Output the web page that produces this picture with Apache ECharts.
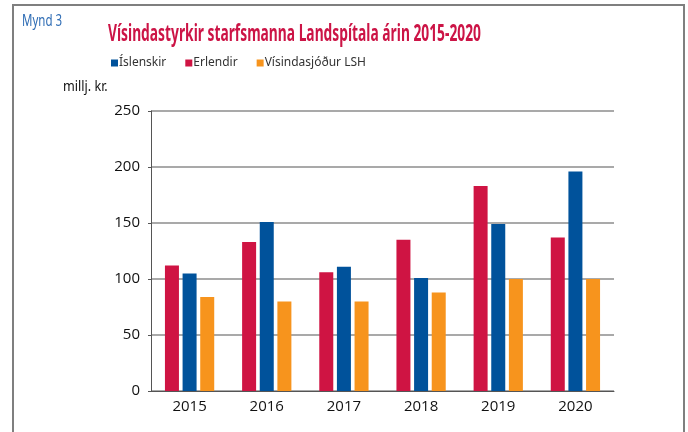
<!DOCTYPE html>
<html lang="is">
<head>
    <meta charset="UTF-8">
    <title>Vísindastyrkir</title>
    <style>
        html, body { margin: 0; padding: 0; background: #fff; }
        #chart { width: 688px; height: 432px; }
    </style>
</head>
<body>
    <div id="chart"></div>
    <script src="https://cdn.jsdelivr.net/npm/echarts@6/dist/echarts.min.js"></script>
    <script>
        // gögn lesin af myndinni
        var years = ['2015', '2016', '2017', '2018', '2019', '2020'];
        var erlendir = [112, 133, 106, 135, 183, 137];
        var islenskir = [105, 151, 111, 101, 149, 196];
        var sjodur = [84, 80, 80, 88, 100, 100];
        var legendOrder = ['Íslenskir', 'Erlendir', 'Vísindasjóður LSH'];

        var chart = echarts.init(document.getElementById('chart'));

        var barStyle = { barWidth: 14, barGap: '26%' };

        option = {
            animation: false,
            textStyle: { fontFamily: 'Open Sans' },
            graphic: [
                {
                    type: 'rect',
                    shape: { x: 13, y: 5, width: 671, height: 440 },
                    style: { fill: 'none', stroke: '#7f7f7f', lineWidth: 2 }
                },
                {
                    // Mynd 3 - þrengt letur
                    type: 'text', x: 22, y: 13, scaleX: 0.72,
                    style: { text: 'Mynd 3', fill: '#2f6db5', font: '16px "Noto Sans"' }
                },
                {
                    type: 'text', x: 108, y: 23, scaleX: 0.6,
                    style: {
                        text: 'Vísindastyrkir starfsmanna Landspítala árin 2015-2020',
                        fill: '#cc1446',
                        font: 'bold 23px "Noto Sans"'
                    }
                },
                {
                    type: 'text', x: 63, y: 80, scaleX: 0.9,
                    style: { text: 'millj. kr.', fill: '#111', font: '14px "Noto Sans"' }
                }
            ],
            legend: {
                data: legendOrder,
                left: 106,
                top: 52,
                itemWidth: 7,
                itemHeight: 7,
                itemGap: 19,
                icon: 'rect',
                textStyle: { fontSize: 12, color: '#333', padding: [0, 0, 0, -4], fontFamily: 'Noto Sans' }
            },
            grid: { left: 151, right: 74, top: 111, bottom: 41 },
            xAxis: {
                type: 'category',
                data: years,
                axisLine: { lineStyle: { color: '#555', width: 1 } },
                axisTick: { length: 5, lineStyle: { color: '#555' } },
                axisLabel: { fontSize: 15, color: '#111', margin: 8 }
            },
            yAxis: {
                type: 'value',
                min: 0,
                max: 250,
                interval: 50,
                axisLine: { show: true, lineStyle: { color: '#555' } },
                axisTick: { show: true, length: 3, lineStyle: { color: '#555' } },
                axisLabel: { fontSize: 15, color: '#111', margin: 11 },
                splitLine: { lineStyle: { color: '#8c8c8c', width: 1.5 } }
            },
            series: [
                Object.assign({ name: 'Erlendir', type: 'bar', data: erlendir, itemStyle: { color: '#cf1443' } }, barStyle),
                Object.assign({ name: 'Íslenskir', type: 'bar', data: islenskir, itemStyle: { color: '#00529b' } }, barStyle),
                Object.assign({ name: 'Vísindasjóður LSH', type: 'bar', data: sjodur, itemStyle: { color: '#f7941d' } }, barStyle)
            ]
        };

        chart.setOption(option, true);
    </script>
</body>
</html>
